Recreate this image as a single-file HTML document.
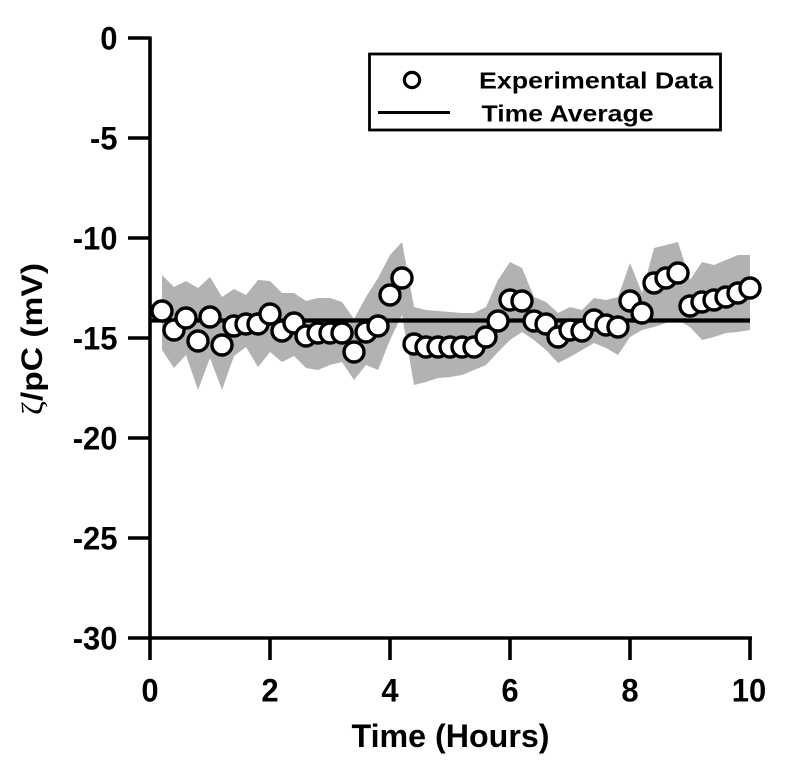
<!DOCTYPE html>
<html>
<head>
<meta charset="utf-8">
<style>
html,body{margin:0;padding:0;background:#fff;}
svg{display:block;}
text{font-family:"Liberation Sans",Arial,sans-serif;font-weight:bold;fill:#000;}
</style>
</head>
<body>
<svg width="800" height="767" viewBox="0 0 800 767" xmlns="http://www.w3.org/2000/svg">
<rect width="800" height="767" fill="#fff"/>
<polygon fill="#b2b2b2" points="162,275 174,287 186,281 198,288 210,277 222,297 234,289 246,295 258,280 270,281 282,293 294,293 306,301 318,298 330,298 342,302 354,319 366,297 378,278 390,255 402,242 414,307 426,310 438,311 450,312 462,313 474,313 486,307 498,280 510,262 522,268 534,297 546,302 558,313 570,307 582,310 594,298 606,300 618,297 630,263 642,293 654,248 666,245 678,242 690,280 702,262 714,265 726,260 738,255 750,255 750,330 738,332 726,333 714,337 702,340 690,327 678,320 666,323 654,327 642,330 630,337 618,355 606,348 594,343 582,350 570,357 558,363 546,350 534,340 522,332 510,340 498,352 486,365 474,370 462,375 450,377 438,378 426,382 414,385 402,315 390,340 378,370 366,365 354,380 342,362 330,365 318,370 306,368 294,356 282,362 270,352 258,367 246,347 234,356 222,390 210,358 198,390 186,355 174,368 162,350"/>
<line x1="150" y1="320.5" x2="750" y2="320.5" stroke="#000" stroke-width="4.2"/>
<g fill="#fff" stroke="#000" stroke-width="3.4">
<circle cx="162" cy="311" r="10"/>
<circle cx="174" cy="330" r="10"/>
<circle cx="186" cy="318" r="10"/>
<circle cx="198" cy="341" r="10"/>
<circle cx="210" cy="317" r="10"/>
<circle cx="222" cy="345" r="10"/>
<circle cx="234" cy="326" r="10"/>
<circle cx="246" cy="324" r="10"/>
<circle cx="258" cy="324" r="10"/>
<circle cx="270" cy="314" r="10"/>
<circle cx="282" cy="331" r="10"/>
<circle cx="294" cy="323" r="10"/>
<circle cx="306" cy="336" r="10"/>
<circle cx="318" cy="333" r="10"/>
<circle cx="330" cy="333" r="10"/>
<circle cx="342" cy="333" r="10"/>
<circle cx="354" cy="352" r="10"/>
<circle cx="366" cy="332" r="10"/>
<circle cx="378" cy="326" r="10"/>
<circle cx="390" cy="295" r="10"/>
<circle cx="402" cy="278" r="10"/>
<circle cx="414" cy="344" r="10"/>
<circle cx="426" cy="347" r="10"/>
<circle cx="438" cy="347" r="10"/>
<circle cx="450" cy="347" r="10"/>
<circle cx="462" cy="347" r="10"/>
<circle cx="474" cy="347" r="10"/>
<circle cx="486" cy="337" r="10"/>
<circle cx="498" cy="321" r="10"/>
<circle cx="510" cy="300" r="10"/>
<circle cx="522" cy="301" r="10"/>
<circle cx="534" cy="321" r="10"/>
<circle cx="546" cy="324" r="10"/>
<circle cx="558" cy="337" r="10"/>
<circle cx="570" cy="330" r="10"/>
<circle cx="582" cy="331" r="10"/>
<circle cx="594" cy="320" r="10"/>
<circle cx="606" cy="325" r="10"/>
<circle cx="618" cy="327" r="10"/>
<circle cx="630" cy="301" r="10"/>
<circle cx="642" cy="313" r="10"/>
<circle cx="654" cy="283" r="10"/>
<circle cx="666" cy="278" r="10"/>
<circle cx="678" cy="273" r="10"/>
<circle cx="690" cy="306" r="10"/>
<circle cx="702" cy="302" r="10"/>
<circle cx="714" cy="300" r="10"/>
<circle cx="726" cy="297" r="10"/>
<circle cx="738" cy="293" r="10"/>
<circle cx="750" cy="288" r="10"/>
</g>
<g stroke="#000" stroke-width="3.6" fill="none">
<line x1="150" y1="36.5" x2="150" y2="660"/>
<line x1="128" y1="638" x2="752" y2="638"/>
<line x1="128" y1="38" x2="150" y2="38"/>
<line x1="128" y1="138" x2="150" y2="138"/>
<line x1="128" y1="238" x2="150" y2="238"/>
<line x1="128" y1="338" x2="150" y2="338"/>
<line x1="128" y1="438" x2="150" y2="438"/>
<line x1="128" y1="538" x2="150" y2="538"/>
<line x1="270" y1="638" x2="270" y2="660"/>
<line x1="390" y1="638" x2="390" y2="660"/>
<line x1="510" y1="638" x2="510" y2="660"/>
<line x1="630" y1="638" x2="630" y2="660"/>
<line x1="750" y1="638" x2="750" y2="660"/>
</g>
<g font-size="31" text-anchor="end">
<text transform="translate(117.5,49.5) scale(1,1.05)">0</text>
<text transform="translate(117.5,149.5) scale(1,1.05)">-5</text>
<text transform="translate(117.5,249.5) scale(1,1.05)">-10</text>
<text transform="translate(117.5,349.5) scale(1,1.05)">-15</text>
<text transform="translate(117.5,449.5) scale(1,1.05)">-20</text>
<text transform="translate(117.5,549.5) scale(1,1.05)">-25</text>
<text transform="translate(117.5,649.5) scale(1,1.05)">-30</text>
</g>
<g font-size="31" text-anchor="middle">
<text transform="translate(150,701.5) scale(1,1.05)">0</text>
<text transform="translate(270,701.5) scale(1,1.05)">2</text>
<text transform="translate(390,701.5) scale(1,1.05)">4</text>
<text transform="translate(510,701.5) scale(1,1.05)">6</text>
<text transform="translate(630,701.5) scale(1,1.05)">8</text>
<text transform="translate(749,701.5) scale(1,1.05)">10</text>
</g>
<text x="351.5" y="747" font-size="32" textLength="198" lengthAdjust="spacingAndGlyphs">Time (Hours)</text>
<text transform="translate(42,339) rotate(-90)" x="0" y="0" font-size="30" text-anchor="middle" textLength="152" lengthAdjust="spacingAndGlyphs"><tspan font-family="'Liberation Serif','DejaVu Serif',serif" font-weight="normal">ζ</tspan>/pC (mV)</text>
<rect x="369.5" y="54" width="351" height="76" fill="#fff" stroke="#000" stroke-width="2.8"/>
<circle cx="412" cy="80" r="7.6" fill="#fff" stroke="#000" stroke-width="3.2"/>
<line x1="378" y1="112.5" x2="450" y2="112.5" stroke="#000" stroke-width="3"/>
<text x="479" y="88.5" font-size="23" textLength="234" lengthAdjust="spacingAndGlyphs">Experimental Data</text>
<text x="481.5" y="121.5" font-size="23" textLength="172" lengthAdjust="spacingAndGlyphs">Time Average</text>
</svg>
</body>
</html>
